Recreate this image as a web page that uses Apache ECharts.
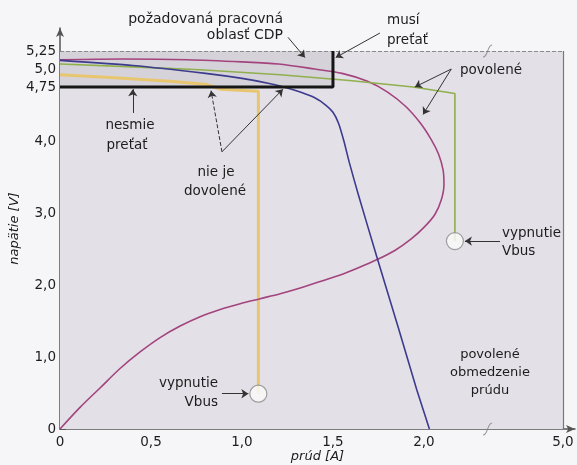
<!DOCTYPE html>
<html><head><meta charset="utf-8">
<script src="https://cdn.jsdelivr.net/npm/echarts@6/dist/echarts.min.js"></script>
<style>html,body{margin:0;padding:0;background:#f6f5f7}#c{width:577px;height:465px}</style>
</head><body><div id="c"></div>
<script>
// ---- data ----
const xTickValues = [0, 0.5, 1.0, 1.5, 2.0, 5.0];
const xTickLabels = ['0', '0,5', '1,0', '1,5', '2,0', '5,0'];
const yTickValues = [0, 1, 2, 3, 4, 4.75, 5, 5.25];
const yTickLabels = ['0', '1,0', '2,0', '3,0', '4,0', '4,75', '5,0', '5,25'];

const magenta = [[0,0],[0.11,0.3],[0.22,0.57],[0.33,0.84],[0.44,1.07],[0.55,1.27],[0.66,1.43],[0.77,1.56],[0.88,1.66],[0.99,1.74],[1.1,1.81],[1.21,1.88],[1.32,1.96],[1.43,2.05],[1.54,2.14],[1.64,2.24],[1.74,2.35],[1.84,2.48],[1.93,2.64],[2.0,2.8],[2.06,2.98],[2.095,3.18],[2.11,3.4],[2.105,3.6],[2.08,3.82],[2.04,4.02],[1.98,4.25],[1.9,4.48],[1.8,4.68],[1.69,4.83],[1.55,4.94],[1.4,5.0],[1.2,5.07],[1.0,5.1],[0.7,5.13],[0.35,5.14],[0,5.13]];
const blue = [[0,5.12],[0.4,5.05],[0.8,4.94],[1.0,4.87],[1.15,4.8],[1.23,4.75],[1.32,4.68],[1.4,4.6],[1.46,4.5],[1.5,4.4],[1.53,4.25],[1.56,4.0],[1.59,3.7],[1.64,3.25],[1.74,2.4],[1.86,1.4],[1.96,0.55],[2.03,0]];
const green = [[0,5.07],[0.4,5.03],[0.77,4.99],[1.21,4.92],[1.59,4.84],[1.94,4.75],[2.17,4.66],[2.17,2.61]];
const yellow = [[0,4.92],[0.3,4.88],[0.6,4.83],[0.8,4.79],[0.88,4.72],[1.09,4.69],[1.09,0.49]];
const cdpLimit = [[0,4.75],[1.5,4.75],[1.5,5.25]];
const shutdownPoints = [[2.17,2.61],[1.09,0.49]];
const cdpRegion = {x0: 0, x1: 1.5, y0: 4.75, y1: 5.25};
const plotTop = 5.25;

// broken x axis: values above the break are compressed
const brk = 2.35, compress = 0.156;
const xs = v => v <= brk ? v : brk + (v - brk) * compress;
const xEnd = xs(5.0);

const FONT = 'DejaVu Sans';
const txt = '#1c1c1c';

const chart = echarts.init(document.getElementById('c'), null, {renderer: 'canvas'});

function arrow(a, b, dashed) {
  return [{coord: a, lineStyle: {type: dashed ? 'dashed' : 'solid'}}, {coord: b}];
}
function label(x, y, text, align, size) {
  return {type: 'text', x: x, y: y, z: 100, zlevel: 0,
    style: {text: text, font: (size || 13.5) + 'px "DejaVu Sans"', fill: txt, align: align, verticalAlign: 'middle'}};
}

const option = {
  backgroundColor: '#f6f5f7',
  animation: false,
  grid: {left: 60, right: 2, top: 28, bottom: 36, containLabel: false, outerBoundsMode: 'none'},
  xAxis: {
    type: 'value', min: 0, max: 2.83,
    name: 'prúd [A]', nameLocation: 'middle', nameGap: 21, nameMoveOverlap: false,
    nameTextStyle: {fontFamily: FONT, fontSize: 13, fontStyle: 'italic', color: txt},
    axisLine: {lineStyle: {color: '#555', width: 1.5}, symbol: ['none', 'arrow'], symbolSize: [6, 9]},
    axisTick: {inside: true, length: 6, lineStyle: {color: '#555'}, customValues: xTickValues.map(xs)},
    axisLabel: {
      customValues: xTickValues.map(xs), margin: 6,
      fontFamily: FONT, fontSize: 13.5, color: txt,
      formatter: v => { const i = xTickValues.map(xs).findIndex(t => Math.abs(t - v) < 1e-6); return i >= 0 ? xTickLabels[i] : ''; }
    },
    splitLine: {show: false}
  },
  yAxis: {
    type: 'value', min: 0, max: 5.57,
    name: 'napätie [V]', nameLocation: 'middle', nameGap: 39, nameRotate: 90, nameMoveOverlap: false,
    nameTextStyle: {fontFamily: FONT, fontSize: 13, fontStyle: 'italic', color: txt},
    axisLine: {show: true, lineStyle: {color: '#555', width: 1.5}, symbol: ['none', 'arrow'], symbolSize: [6, 9]},
    axisTick: {show: true, inside: true, length: 6, lineStyle: {color: '#555'}, customValues: yTickValues},
    axisLabel: {
      customValues: yTickValues, margin: 4,
      fontFamily: FONT, fontSize: 13.5, color: txt,
      formatter: v => { const i = yTickValues.findIndex(t => Math.abs(t - v) < 1e-6); return i >= 0 ? yTickLabels[i] : ''; }
    },
    splitLine: {show: false}
  },
  series: [
    {
      name: 'frame', type: 'line', data: [], silent: true, z: 1,
      markArea: {silent: true, data: [
        [{coord: [0, 0], itemStyle: {color: '#e3e0e7'}}, {coord: [xEnd, plotTop]}],
        [{coord: [cdpRegion.x0, cdpRegion.y0], itemStyle: {color: '#d5d2d9'}}, {coord: [cdpRegion.x1, cdpRegion.y1]}]
      ]},
      markLine: {silent: true, symbol: ['none', 'none'], label: {show: false}, data: [
        [{coord: [0, plotTop], lineStyle: {color: '#8a8a8a', type: 'dashed', width: 1}}, {coord: [xEnd, plotTop]}],
        [{coord: [xEnd, 0], lineStyle: {color: '#777', type: 'solid', width: 1.2}}, {coord: [xEnd, plotTop]}]
      ]}
    },
    {name: 'yellow', type: 'line', data: yellow, showSymbol: false, z: 3, lineStyle: {color: '#e8c670', width: 3}},
    {name: 'magenta', type: 'line', data: magenta, showSymbol: false, smooth: 0.3, z: 4, lineStyle: {color: '#a3447e', width: 1.6}},
    {name: 'green', type: 'line', data: green, showSymbol: false, z: 4, lineStyle: {color: '#8fb04c', width: 1.6}},
    {name: 'blue', type: 'line', data: blue, showSymbol: false, smooth: 0.2, z: 4, lineStyle: {color: '#3c3b8e', width: 1.6}},
    {
      name: 'cdp', type: 'line', data: cdpLimit, showSymbol: false, z: 5, lineStyle: {color: '#151515', width: 3},
      markLine: {silent: true, symbol: ['none', 'arrow'], symbolSize: 7, label: {show: false},
        lineStyle: {color: '#333', width: 1, type: 'solid'},
        data: [
          arrow([1.253, 5.44], [1.346, 5.16]),
          arrow([1.758, 5.50], [1.515, 5.16]),
          arrow([2.15, 5.0], [1.95, 4.75]),
          arrow([2.15, 5.0], [1.995, 4.37]),
          arrow([0.40, 4.39], [0.40, 4.72]),
          arrow([0.89, 3.85], [0.83, 4.70], true),
          arrow([0.89, 3.85], [1.225, 4.72]),
          arrow([2.418, 2.61], [2.225, 2.61]),
          arrow([0.89, 0.49], [1.035, 0.49])
        ]}
    },
    {
      name: 'break', type: 'scatter', z: 6, silent: true,
      data: [[brk, plotTop], [brk, 0]],
      symbol: 'path://M0,14 C5,14 4,0 9,0', symbolSize: [9, 12],
      itemStyle: {color: 'rgba(0,0,0,0)', borderColor: '#777', borderWidth: 1}
    },
    {
      name: 'shutdown', type: 'scatter', z: 7, data: shutdownPoints, symbol: 'circle', symbolSize: 17,
      itemStyle: {color: '#fbfbfb', borderColor: '#8a8a8a', borderWidth: 1.2}
    }
  ],
  graphic: {elements: [
    label(283, 19, 'požadovaná pracovná', 'right', 14),
    label(283, 35, 'oblasť CDP', 'right', 14),
    label(387, 20, 'musí', 'left'),
    label(387, 40, 'preťať', 'left'),
    label(460, 70, 'povolené', 'left'),
    label(130, 125, 'nesmie', 'center'),
    label(127, 145, 'preťať', 'center'),
    label(216, 172, 'nie je', 'center'),
    label(215, 191, 'dovolené', 'center'),
    label(502, 233, 'vypnutie', 'left'),
    label(502, 251, 'Vbus', 'left'),
    label(218, 383, 'vypnutie', 'right'),
    label(218, 402, 'Vbus', 'right'),
    label(490, 355, 'povolené', 'center', 13),
    label(490, 373, 'obmedzenie', 'center', 13),
    label(490, 391, 'prúdu', 'center', 13)
  ]}
};
chart.setOption(option);
</script>
</body></html>
